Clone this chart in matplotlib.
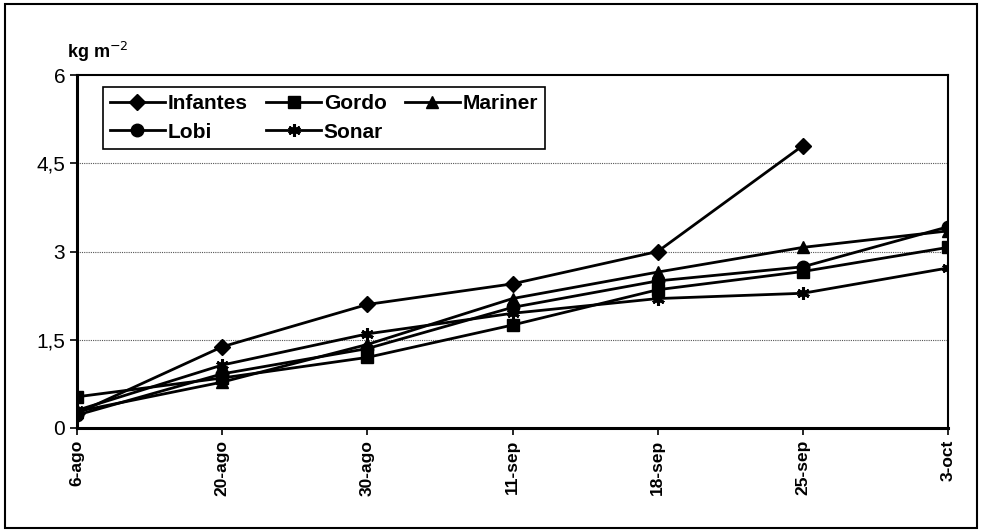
import numpy as np
import matplotlib
matplotlib.use("Agg")
import matplotlib.pyplot as plt

plt.rcParams['font.family'] = ['Liberation Sans', 'DejaVu Sans']

# fechas de muestreo
fechas = ["6-ago", "20-ago", "30-ago", "11-sep", "18-sep", "25-sep", "3-oct"]

# valores (kg m-2)
infantes = [0.25, 1.38, 2.10, 2.45, 3.00, 4.80, np.nan]
gordo = [0.53, 0.85, 1.20, 1.75, 2.35, 2.66, 3.07]
mariner = [0.28, 0.78, 1.42, 2.20, 2.65, 3.07, 3.35]
lobi = [0.22, 0.92, 1.35, 2.05, 2.50, 2.74, 3.42]
sonar = [0.30, 1.07, 1.60, 1.95, 2.20, 2.29, 2.72]

y_ticks = [0, 1.5, 3, 4.5, 6]
y_labels = ["0", "1,5", "3", "4,5", "6"]

fig = plt.figure(figsize=(9.82, 5.32), dpi=100)
ax = fig.add_axes([0.0784, 0.1955, 0.887, 0.6635])

x = np.arange(len(fechas))
kw = dict(color="black", lw=2.0, markersize=9)
l_inf, = ax.plot(x, infantes, marker="D", markersize=8, color="black", lw=2.0, label="Infantes")
l_gor, = ax.plot(x, gordo, marker="s", label="Gordo", **kw)
l_mar, = ax.plot(x, mariner, marker="^", label="Mariner", **kw)
l_lob, = ax.plot(x, lobi, marker="o", label="Lobi", **kw)
l_son, = ax.plot(x, sonar, marker=(6, 2, 0), mew=2.2, label="Sonar", **kw)

ax.set_xlim(0, len(fechas) - 1)
ax.set_ylim(0, 6)
ax.set_xticks(x)
ax.set_xticklabels(fechas, rotation=90, fontsize=12.5, fontweight="bold")
ax.set_yticks(y_ticks)
ax.set_yticklabels(y_labels, fontsize=15)
ax.tick_params(direction="out", length=5, width=1.2)

# lineas de rejilla punteadas
for v in [1.5, 3, 4.5]:
    ax.axhline(v, color="#555555", lw=0.8, ls=(0, (1, 1)), zorder=0)

for s in ax.spines.values():
    s.set_linewidth(1.5)
ax.spines["left"].set_linewidth(2.2)
ax.spines["bottom"].set_linewidth(2.2)

ax.text(-0.012, 1.03, "kg m$^{-2}$", transform=ax.transAxes, fontsize=13,
        fontweight="bold", ha="left", va="bottom")

leg = ax.legend([l_inf, l_lob, l_gor, l_son, l_mar],
                ["Infantes", "Lobi", "Gordo", "Sonar", "Mariner"],
                ncol=3, loc="upper left", bbox_to_anchor=(0.03, 0.966),
                fontsize=15, fancybox=False, edgecolor="black", framealpha=1,
                handlelength=2.6, columnspacing=0.9, borderpad=0.35,
                labelspacing=0.45, handletextpad=0.15, borderaxespad=0)
leg.get_frame().set_linewidth(1.2)
for t in leg.get_texts():
    t.set_fontweight("bold")

# marco exterior
fig.patches.append(plt.Rectangle((0.005, 0.008), 0.99, 0.985, transform=fig.transFigure,
                                 fill=False, edgecolor="black", lw=1.5))

fig.savefig("out.png", dpi=100)
